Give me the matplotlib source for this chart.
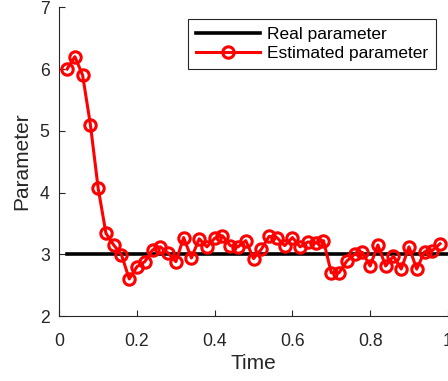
import numpy as np
import matplotlib.pyplot as plt

plt.rcParams['font.family'] = ['Liberation Sans', 'DejaVu Sans']

# data
time_real = [0.02, 1.0]
real_value = [3.0, 3.0]

time_est = np.round(np.arange(1, 50) * 0.02, 2)
est_value = [6.0, 6.2, 5.9, 5.1, 4.07, 3.34, 3.15, 2.99, 2.60, 2.80,
             2.88, 3.07, 3.12, 3.02, 2.88, 3.27, 2.94, 3.25, 3.12, 3.26,
             3.30, 3.14, 3.12, 3.22, 2.93, 3.08, 3.29, 3.27, 3.14, 3.27,
             3.12, 3.20, 3.18, 3.22, 2.70, 2.70, 2.89, 3.00, 3.03, 2.81,
             3.15, 2.81, 2.97, 2.76, 3.12, 2.76, 3.04, 3.06, 3.17]

xticks = [0, 0.2, 0.4, 0.6, 0.8, 1]
xtick_labels = ['0', '0.2', '0.4', '0.6', '0.8', '1']
yticks = [2, 3, 4, 5, 6, 7]

fig = plt.figure(figsize=(4.48, 3.81), dpi=100)
ax = fig.add_axes([0.1324, 0.1706, 0.8672, 0.8103])

ax.plot(time_real, real_value, color='black', lw=2.6, label='Real parameter')
ax.plot(time_est, est_value, color='red', lw=2.2, marker='o', ms=8.2,
        mfc='none', mew=2.2, label='Estimated parameter')

ax.set_xlim(0, 1)
ax.set_ylim(2, 7)
ax.set_xticks(xticks)
ax.set_xticklabels(xtick_labels)
ax.set_yticks(yticks)

gray = '#262626'
for side in ['top', 'right']:
    ax.spines[side].set_visible(False)
for side in ['left', 'bottom']:
    ax.spines[side].set_color(gray)
    ax.spines[side].set_linewidth(0.8)
ax.tick_params(direction='in', length=4, width=0.8, colors=gray,
               labelsize=12.7)
ax.tick_params(axis='x', pad=12)
ax.tick_params(axis='y', pad=7)

ax.set_xlabel('Time', fontsize=15, color=gray, labelpad=3)
ax.set_ylabel('Parameter', fontsize=15, color=gray, labelpad=6)

leg = ax.legend(loc='upper right', bbox_to_anchor=(436 / 448, 1 - 19 / 381),
                bbox_transform=fig.transFigure, borderaxespad=0,
                fontsize=12.5, handlelength=3.7, handletextpad=0.42,
                labelspacing=0.22, borderpad=0.45, fancybox=False,
                framealpha=1)
leg.get_frame().set_edgecolor(gray)
leg.get_frame().set_linewidth(0.8)

fig.savefig('out.png', dpi=100)
